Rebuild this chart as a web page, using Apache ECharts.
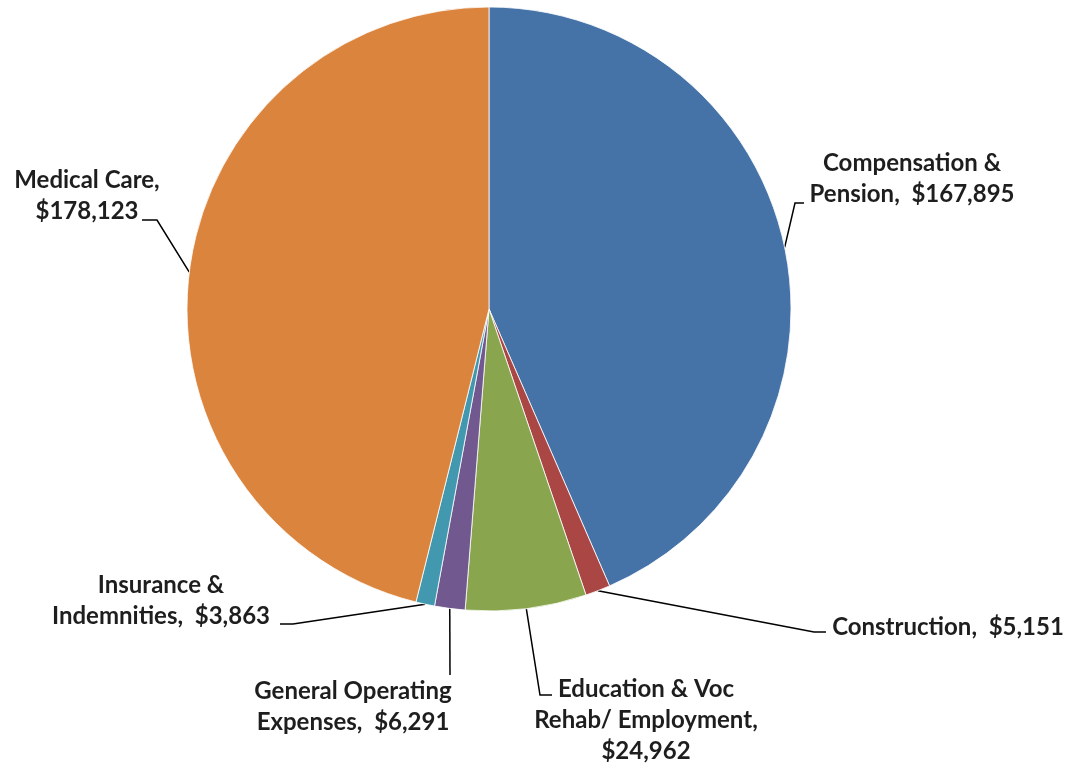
<!DOCTYPE html>
<html>
<head>
<meta charset="utf-8">
<script src="https://cdn.jsdelivr.net/npm/echarts@6/dist/echarts.min.js"></script>
<style>
html,body{margin:0;padding:0;background:#fff;}
#chart{width:1072px;height:766px;}
</style>
</head>
<body>
<div id="chart"></div>
<script>
const categories = ["Compensation &\nPension", "Construction", "Education & Voc\nRehab/ Employment", "General Operating\nExpenses", "Insurance &\nIndemnities", "Medical Care"];
const values = [167895, 5151, 24962, 6291, 3863, 178123];
const valueOnNewLine = [false, false, true, false, false, true];
const colors = ["#4572A7", "#AA4643", "#89A54E", "#71588F", "#4198AF", "#DB843D"];

// label placement (layout only): label centre and leader elbow/end points
const labelPos = [
  {x: 912, y: 179, elbow: [795, 203], end: [804, 203]},
  {x: 948, y: 627, elbow: [814, 632], end: [826, 632]},
  {x: 646, y: 720, elbow: [540, 695], end: [552, 695]},
  {x: 353, y: 707, elbow: [450, 675], end: [450, 675]},
  {x: 161, y: 601, elbow: [293, 624], end: [280, 624]},
  {x: 87,  y: 196, elbow: [157, 220], end: [142, 220]}
];

function fmt(v){ return '$' + v.toLocaleString('en-US'); }

const chart = echarts.init(document.getElementById('chart'), null, {renderer: 'canvas'});
chart.setOption({
  animation: false,
  backgroundColor: '#ffffff',
  color: colors,
  series: [{
    type: 'pie',
    center: [489, 309],
    radius: 302,
    startAngle: 90,
    clockwise: true,
    avoidLabelOverlap: false,
    itemStyle: {borderColor: '#ffffff', borderWidth: 0.8},
    label: {
      show: true,
      position: 'outside',
      color: '#1e1e1e',
      fontFamily: 'Lato',
      fontWeight: 'bold',
      fontSize: 24,
      lineHeight: 31,
      align: 'center',
      formatter: function(p){
        const i = p.dataIndex;
        return p.name + (valueOnNewLine[i] ? ',\n' : ',  ') + fmt(p.value);
      }
    },
    labelLine: {show: true, lineStyle: {color: '#000000', width: 1.5}},
    labelLayout: function(params){
      const i = params.dataIndex;
      const lp = labelPos[i];
      const p0 = params.labelLinePoints ? params.labelLinePoints[0] : lp.elbow;
      return {
        x: lp.x, y: lp.y, align: 'center', verticalAlign: 'middle',
        labelLinePoints: [p0, lp.elbow, lp.end]
      };
    },
    data: categories.map(function(c, i){ return {name: c, value: values[i]}; })
  }]
});
</script>
</body>
</html>
